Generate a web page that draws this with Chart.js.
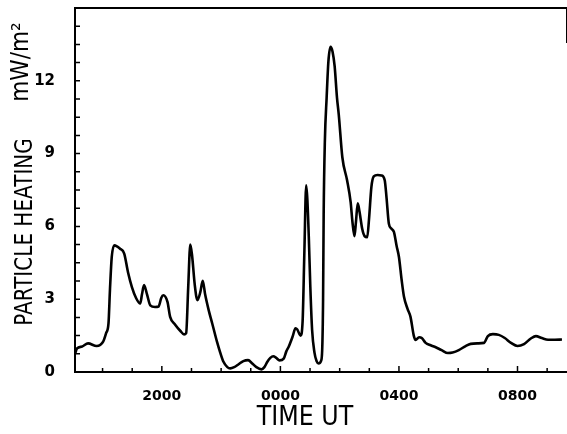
<!DOCTYPE html>
<html>
<head>
<meta charset="utf-8">
<script src="https://cdn.jsdelivr.net/npm/chart.js@4"></script>
<style>
html, body { margin: 0; padding: 0; background: #fff; overflow: hidden; }
#wrap { position: relative; width: 567px; height: 434px; overflow: hidden; }
#heatingChart { position: absolute; left: 0; top: -13px; }
</style>
</head>
<body>
<div id="wrap"><canvas id="heatingChart" width="575" height="447"></canvas></div>
<script>
// Time in hours relative to 0000 UT (negative = before midnight)
var timeHours = [-6.93, -6.86, -6.69, -6.49, -6.20, -5.98, -5.88, -5.80, -5.75, -5.69,
    -5.60, -5.41, -5.27, -5.14, -5.01, -4.87, -4.73, -4.67, -4.60, -4.50,
    -4.39, -4.23, -4.11, -4.02, -3.95, -3.81, -3.72, -3.55, -3.38, -3.25,
    -3.18, -3.11, -3.04, -2.98, -2.89, -2.80, -2.70, -2.62, -2.54, -2.42,
    -2.30, -2.14, -2.03, -1.92, -1.79, -1.69, -1.56, -1.41, -1.25, -1.09,
    -0.95, -0.81, -0.64, -0.54, -0.45, -0.34, -0.24, -0.14, -0.03, 0.11,
    0.20, 0.28, 0.41, 0.51, 0.57, 0.68, 0.75, 0.81, 0.87, 0.91,
    0.96, 1.01, 1.07, 1.15, 1.22, 1.29, 1.37, 1.41, 1.44, 1.46,
    1.50, 1.56, 1.62, 1.69, 1.76, 1.83, 1.91, 1.97, 2.09, 2.25,
    2.37, 2.43, 2.50, 2.55, 2.61, 2.67, 2.76, 2.84, 2.93, 2.99,
    3.07, 3.15, 3.28, 3.41, 3.52, 3.58, 3.66, 3.75, 3.83, 3.92,
    4.00, 4.09, 4.17, 4.29, 4.39, 4.50, 4.56, 4.68, 4.77, 4.90,
    5.07, 5.24, 5.44, 5.65, 5.81, 6.02, 6.25, 6.42, 6.66, 6.87,
    7.00, 7.17, 7.37, 7.57, 7.78, 8.00, 8.22, 8.45, 8.62, 8.82,
    9.03, 9.26, 9.50];

// Particle heating, mW/m^2
var heating = [0.75, 0.97, 1.05, 1.18, 1.07, 1.25, 1.6, 2.0, 3.4, 4.74,
    5.22, 5.08, 4.88, 4.1, 3.5, 3.05, 2.82, 3.2, 3.58, 3.2,
    2.75, 2.68, 2.7, 3.05, 3.16, 2.89, 2.27, 1.95, 1.7, 1.55,
    1.6, 3.5, 5.25, 4.8, 3.6, 2.96, 3.3, 3.76, 3.2, 2.55,
    2.0, 1.25, 0.8, 0.42, 0.2, 0.15, 0.2, 0.32, 0.45, 0.49,
    0.35, 0.2, 0.11, 0.2, 0.4, 0.58, 0.65, 0.58, 0.48, 0.55,
    0.85, 1.04, 1.45, 1.8, 1.75, 1.5, 2.1, 5.0, 7.69, 7.1,
    5.5, 3.5, 1.73, 0.8, 0.45, 0.35, 0.45, 0.9, 3.0, 6.5,
    9.5, 11.3, 12.8, 13.4, 13.2, 12.6, 11.3, 10.6, 8.85, 7.9,
    7.0, 6.2, 5.6, 6.2, 6.95, 6.6, 5.9, 5.6, 5.55, 6.3,
    7.62, 8.06, 8.12, 8.1, 7.9, 7.2, 6.11, 5.9, 5.77, 5.2,
    4.74, 3.8, 3.1, 2.6, 2.27, 1.5, 1.32, 1.43, 1.4, 1.2,
    1.1, 1.02, 0.9, 0.78, 0.8, 0.9, 1.07, 1.16, 1.18, 1.2,
    1.48, 1.56, 1.53, 1.4, 1.2, 1.07, 1.15, 1.38, 1.48, 1.4,
    1.33, 1.33, 1.34];

var xTickValues = [-4, 0, 4, 8];
var xTickLabels = ['2000', '0000', '0400', '0800'];
var yTickValues = [0, 3, 6, 9, 12];

var labelFont = "'DejaVu Sans', sans-serif";
var shiftY = 13; // canvas is moved up by this much

// draw rotated / condensed text
function drawText(ctx, text, x, y, size, angle, squeeze) {
    ctx.save();
    ctx.translate(x, y + shiftY);
    ctx.rotate(angle);
    ctx.scale(squeeze, 1);
    ctx.fillStyle = '#000';
    ctx.textAlign = 'center';
    ctx.textBaseline = 'middle';
    ctx.font = size + 'px ' + labelFont;
    ctx.fillText(text, 0, 0);
    ctx.restore();
}

// Inward ticks, frame and axis titles
var framePlugin = {
    id: 'frame',
    afterDraw: function(chart) {
        var ctx = chart.ctx;
        var area = chart.chartArea;
        var xs = chart.scales.x;
        var ys = chart.scales.y;
        ctx.save();
        ctx.strokeStyle = '#000';
        ctx.lineWidth = 1.5;
        ctx.beginPath();
        for (var h = Math.ceil(xs.min); h <= Math.floor(xs.max); h++) {
            var px = xs.getPixelForValue(h);
            var len = xTickValues.indexOf(h) >= 0 ? 6 : 4;
            ctx.moveTo(px, area.bottom);
            ctx.lineTo(px, area.bottom - len);
        }
        for (var v = 0.75; v < ys.max; v += 0.75) {
            var py = ys.getPixelForValue(v);
            ctx.moveTo(area.left, py);
            ctx.lineTo(area.left + 5, py);
        }
        ctx.stroke();

        // top border and a short right edge
        ctx.lineWidth = 2;
        ctx.beginPath();
        ctx.moveTo(area.left, area.top);
        ctx.lineTo(area.right, area.top);
        ctx.moveTo(area.right, area.top);
        ctx.lineTo(area.right, area.top + 35);
        ctx.stroke();
        ctx.restore();

        drawText(ctx, 'TIME UT', 305, 418, 27, 0, 0.88);
        drawText(ctx, 'PARTICLE HEATING', 25, 232, 25, -Math.PI / 2, 0.8);
        drawText(ctx, 'mW/m\u00B2', 22, 62, 24, -Math.PI / 2, 0.9);
    }
};

var points = timeHours.map(function(t, i) { return { x: t, y: heating[i] }; });

var canvas = document.getElementById('heatingChart');
var heatingChart = new Chart(canvas, {
    type: 'line',
    data: {
        datasets: [{
            label: 'Particle heating',
            data: points,
            borderColor: '#000',
            borderWidth: 2.6,
            pointRadius: 0,
            fill: false,
            cubicInterpolationMode: 'monotone'
        }]
    },
    options: {
        responsive: false,
        animation: false,
        devicePixelRatio: 1,
        layout: { padding: { left: 0, top: 0, right: 0, bottom: 0 } },
        plugins: { legend: { display: false }, tooltip: { enabled: false } },
        scales: {
            x: {
                type: 'linear',
                min: -6.93,
                max: 9.67,
                grid: { display: false },
                border: { display: true, color: '#000', width: 2 },
                afterFit: function(scale) { scale.height = 62; },
                ticks: {
                    stepSize: 1,
                    autoSkip: false,
                    maxRotation: 0,
                    padding: 8,
                    color: '#000',
                    font: { family: labelFont, size: 14, weight: 'bold' },
                    callback: function(value) {
                        var i = xTickValues.indexOf(Math.round(value * 100) / 100);
                        return i >= 0 ? xTickLabels[i] : '';
                    }
                }
            },
            y: {
                min: 0,
                max: 15,
                grid: { display: false },
                border: { display: true, color: '#000', width: 2 },
                afterFit: function(scale) { scale.width = 75; },
                ticks: {
                    stepSize: 3,
                    padding: 12,
                    color: '#000',
                    font: { family: labelFont, size: 15, weight: 'bold' },
                    callback: function(value) {
                        return yTickValues.indexOf(value) >= 0 ? String(value) : '';
                    }
                }
            }
        }
    },
    plugins: [framePlugin]
});
</script>
</body>
</html>
